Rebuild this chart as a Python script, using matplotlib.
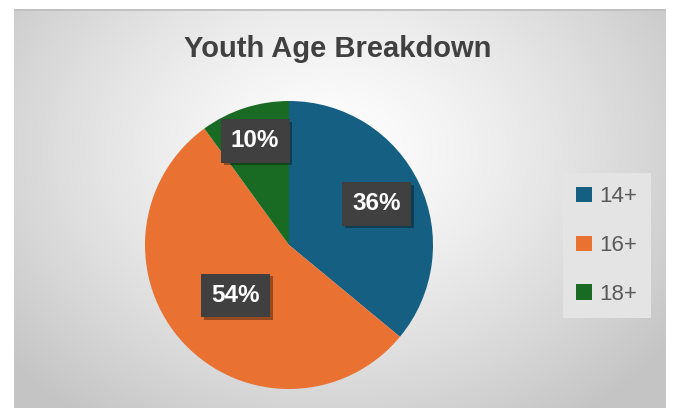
import numpy as np
import matplotlib
matplotlib.use("Agg")
import matplotlib.pyplot as plt
from matplotlib.patches import Patch
import matplotlib.patheffects as pe

title = "Youth Age Breakdown"
categories = ["14+", "16+", "18+"]
values = [36, 54, 10]
colors = ["#156082", "#e97132", "#196b24"]
label_radius = [0.67, 0.51, 0.76]

W, H = 673, 408
fig = plt.figure(figsize=(W / 100, H / 100), dpi=100)
fig.patch.set_facecolor("white")

# background panel with radial gradient
px0, px1, py0, py1 = 14, 666, 9, 408
bg = fig.add_axes([px0 / W, 0, (px1 - px0) / W, (py1 - py0) / H])
bg.set_axis_off()
nx, ny = px1 - px0, py1 - py0
xx, yy = np.meshgrid(np.arange(nx), np.arange(ny))
cx, cy = 330 - px0, 150 - py0
r = np.sqrt(((xx - cx) / 420.0) ** 2 + ((yy - cy) / 330.0) ** 2)
v = 1.0 - 0.23 * np.clip(r, 0, 1) ** 1.3
img = np.dstack([v, v, v])
bg.imshow(img, extent=(0, nx, ny, 0), aspect="auto", interpolation="bilinear")
bg.set_xlim(0, nx)
bg.set_ylim(ny, 0)
bg.plot([0, nx], [0.5, 0.5], color="#bdbdbd", lw=1.2)

# title
fig.text(338 / W, 1 - 49 / H, title, ha="center", va="center",
         fontsize=21, fontweight="bold", color="#404040", family="Liberation Sans")

# pie
pcx, pcy, pr = 289, 245, 144
ax = fig.add_axes([(pcx - pr) / W, (H - pcy - pr) / H, 2 * pr / W, 2 * pr / H])
ax.set_axis_off()
wedges, _ = ax.pie(values, colors=colors, startangle=90, counterclock=False,
                   radius=1, wedgeprops=dict(linewidth=0))
ax.set_xlim(-1, 1)
ax.set_ylim(-1, 1)

total = float(sum(values))
for w, val, rr in zip(wedges, values, label_radius):
    ang = np.deg2rad((w.theta1 + w.theta2) / 2)
    t = ax.text(rr * np.cos(ang), rr * np.sin(ang), f"{val / total * 100:.0f}%",
                ha="center", va="center", fontsize=17.5, fontweight="bold",
                color="white", family="Liberation Sans",
                bbox=dict(boxstyle="square,pad=0.42", facecolor="#404040",
                          edgecolor="none"))
    t.get_bbox_patch().set_path_effects([
        pe.SimplePatchShadow(offset=(2, -2), alpha=0.35, shadow_rgbFace="black"),
        pe.Normal()])

# legend
handles = [Patch(facecolor=c, edgecolor="none") for c in colors]
leg = fig.legend(handles, categories, loc="upper left",
                 bbox_to_anchor=(563 / W, 1 - 173 / H),
                 prop=dict(family="Liberation Sans", size=16),
                 labelcolor="#595959", frameon=True, fancybox=False,
                 facecolor="#e4e4e4", edgecolor="none", framealpha=1,
                 handlelength=0.7, handleheight=0.7, handletextpad=0.35,
                 labelspacing=1.25, borderpad=0.6, borderaxespad=0)

fig.savefig("out.png", dpi=100)
